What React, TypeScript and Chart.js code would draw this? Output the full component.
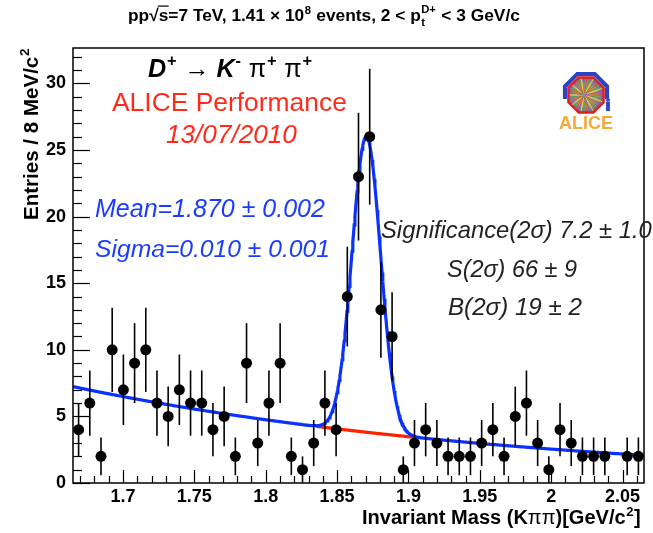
import React, { useEffect, useRef } from 'react';
import { Chart, registerables } from 'chart.js';
Chart.register(...registerables);

// ---------- data ----------
const MASS_MIN = 1.665;
const MASS_MAX = 2.065;
const N_BINS = 51;
const binCenters = Array.from({ length: N_BINS }, (_, i) => MASS_MIN + ((i + 0.5) * (MASS_MAX - MASS_MIN)) / N_BINS);
const entries: (number | null)[] = [
  4, 6, 2, 10, 7, 9, 10, 6, 5, 7,
  6, 6, 4, 5, 2, 9, 3, 6, 9, 2,
  1, 3, 6, 4, 14, 23, 26, 13, 11, 1,
  3, 4, 3, 2, 2, 2, 3, 4, 2, 5,
  6, 3, 1, 4, 3, 2, 2, 2, null, 2,
  2,
];
const xTickValues = [1.7, 1.75, 1.8, 1.85, 1.9, 1.95, 2.0, 2.05];
const xTickLabels = ['1.7', '1.75', '1.8', '1.85', '1.9', '1.95', '2', '2.05'];
const yTickValues = [0, 5, 10, 15, 20, 25, 30];
const yTickLabels = ['0', '5', '10', '15', '20', '25', '30'];
const Y_MAX = 32.66;

// fit parameters (Gaussian signal + exponential background)
const fitMean = 1.8705;
const fitSigma = 0.01;
const fitGaussAmp = 22.2;
const bkgAtMin = 7.24;
const bkgSlope = -3.12;
const bkgOnlyRange = [1.836, 1.903];

const bkg = (m: number) => bkgAtMin * Math.exp(bkgSlope * (m - MASS_MIN));
const total = (m: number) => bkg(m) + fitGaussAmp * Math.exp(-0.5 * ((m - fitMean) / fitSigma) ** 2);
const curveX = Array.from({ length: 801 }, (_, i) => MASS_MIN + (i * (MASS_MAX - MASS_MIN)) / 800);

// ---------- text helpers ----------
type Seg = { t: string; b?: boolean; i?: boolean; pos?: 'sup' | 'sub' | 'subsup'; sup2?: string; over?: boolean };
const FAM = '"Liberation Sans", Arial, Helvetica, sans-serif';
const fnt = (size: number, b?: boolean, i?: boolean) => `${i ? 'italic ' : ''}${b ? 'bold ' : ''}${size}px ${FAM}`;

function segWidth(ctx: CanvasRenderingContext2D, s: Seg, size: number) {
  if (!s.pos) {
    ctx.font = fnt(size, s.b, s.i);
    return ctx.measureText(s.t).width;
  }
  const ss = size * 0.65;
  ctx.font = fnt(ss, s.b, s.i);
  let w = ctx.measureText(s.t).width;
  if (s.pos === 'subsup' && s.sup2) w = Math.max(w, ctx.measureText(s.sup2).width);
  return w + size * 0.06;
}
const richWidth = (ctx: CanvasRenderingContext2D, segs: Seg[], size: number) =>
  segs.reduce((a, s) => a + segWidth(ctx, s, size), 0);

function drawRich(ctx: CanvasRenderingContext2D, segs: Seg[], x: number, y: number, size: number, color: string) {
  ctx.fillStyle = color;
  ctx.strokeStyle = color;
  ctx.textAlign = 'left';
  ctx.textBaseline = 'alphabetic';
  let cx = x;
  for (const s of segs) {
    const w = segWidth(ctx, s, size);
    if (!s.pos) {
      ctx.font = fnt(size, s.b, s.i);
      ctx.fillText(s.t, cx, y);
      if (s.over) {
        ctx.lineWidth = Math.max(1, size * 0.07);
        ctx.beginPath();
        ctx.moveTo(cx - size * 0.05, y - size * 0.86);
        ctx.lineTo(cx + w + size * 0.02, y - size * 0.86);
        ctx.stroke();
      }
    } else {
      const ss = size * 0.65;
      ctx.font = fnt(ss, s.b, s.i);
      if (s.pos === 'sup') ctx.fillText(s.t, cx + size * 0.03, y - size * 0.42);
      else if (s.pos === 'sub') ctx.fillText(s.t, cx + size * 0.03, y + size * 0.22);
      else {
        ctx.fillText(s.t, cx + size * 0.02, y + size * 0.3);
        if (s.sup2) ctx.fillText(s.sup2, cx + size * 0.02, y - size * 0.45);
      }
    }
    cx += w;
  }
}
function fitRich(ctx: CanvasRenderingContext2D, segs: Seg[], x: number, y: number, width: number, color: string) {
  const size = (100 * width) / richWidth(ctx, segs, 100);
  drawRich(ctx, segs, x, y, size, color);
}

function drawLogo(ctx: CanvasRenderingContext2D, cx: number, cy: number, r: number) {
  const oct = (rad: number) => {
    ctx.beginPath();
    for (let k = 0; k < 8; k++) {
      const a = Math.PI / 8 + (k * Math.PI) / 4;
      ctx.lineTo(cx + rad * Math.cos(a), cy + rad * Math.sin(a));
    }
    ctx.closePath();
  };
  ctx.save();
  ctx.beginPath();
  ctx.rect(cx - r - 10, cy - r - 10, 2 * r + 20, r + 14);
  ctx.clip();
  oct(r + 6);
  ctx.fillStyle = '#2c43c4';
  ctx.fill();
  ctx.restore();
  oct(r + 1.5);
  ctx.fillStyle = '#ffffff';
  ctx.fill();
  oct(r);
  const g = ctx.createRadialGradient(cx - 2, cy, 1, cx, cy, r);
  g.addColorStop(0, '#ffe040');
  g.addColorStop(0.3, '#f0a040');
  g.addColorStop(0.6, '#9a9a6a');
  g.addColorStop(1, '#6a5ab0');
  ctx.fillStyle = g;
  ctx.fill();
  ctx.save();
  oct(r);
  ctx.clip();
  for (let k = 0; k < 36; k++) {
    const a = (k * Math.PI * 2) / 36;
    ctx.strokeStyle = ['#e05030', '#40a060', '#f0d040', '#8060c0'][k % 4];
    ctx.lineWidth = 1;
    ctx.beginPath();
    ctx.moveTo(cx - 2, cy);
    ctx.lineTo(cx - 2 + r * 1.2 * Math.cos(a), cy + r * 1.2 * Math.sin(a));
    ctx.stroke();
  }
  ctx.restore();
  oct(r);
  ctx.strokeStyle = '#e02020';
  ctx.lineWidth = 2.5;
  ctx.stroke();
  ctx.fillStyle = '#3050c0';
  ctx.fillRect(cx + r + 1, cy + r - 12, 4, 9);
  ctx.beginPath();
  ctx.arc(cx + r + 3, cy + r - 14, 2, 0, Math.PI * 2);
  ctx.fill();
  ctx.font = fnt(18, true);
  ctx.fillStyle = '#f6a838';
  ctx.textAlign = 'center';
  ctx.fillText('ALICE', cx, cy + r + 15);
}

// ---------- plugins ----------
const errorBarPlugin = {
  id: 'errbars',
  beforeDatasetDraw(chart: any, args: any) {
    if (args.index !== 0) return;
    const { ctx, scales } = chart;
    ctx.save();
    ctx.strokeStyle = '#000';
    ctx.lineWidth = 1.6;
    binCenters.forEach((m, i) => {
      const v = entries[i];
      if (v == null) return;
      const e = Math.sqrt(v);
      const px = scales.x.getPixelForValue(m);
      ctx.beginPath();
      ctx.moveTo(px, scales.y.getPixelForValue(Math.max(0, v - e)));
      ctx.lineTo(px, scales.y.getPixelForValue(v + e));
      ctx.stroke();
    });
    ctx.restore();
  },
};

const decorPlugin = {
  id: 'decor',
  afterDraw(chart: any) {
    const { ctx, chartArea: a, scales } = chart;
    ctx.save();
    // frame
    ctx.strokeStyle = '#000';
    ctx.lineWidth = 1.5;
    ctx.strokeRect(a.left, a.top, a.right - a.left, a.bottom - a.top);
    // inward ticks
    ctx.lineWidth = 1.2;
    for (let k = 167; k <= 206; k++) {
      const px = Math.round(scales.x.getPixelForValue(k / 100)) + 0.5;
      const len = k % 5 === 0 ? 13 : 7;
      ctx.beginPath();
      ctx.moveTo(px, a.bottom);
      ctx.lineTo(px, a.bottom - len);
      ctx.stroke();
    }
    for (let k = 0; k <= 32; k++) {
      const py = Math.round(scales.y.getPixelForValue(k)) + 0.5;
      const len = k % 5 === 0 ? 17 : 9;
      ctx.beginPath();
      ctx.moveTo(a.left, py);
      ctx.lineTo(a.left + len, py);
      ctx.stroke();
    }

    // title
    fitRich(
      ctx,
      [
        { t: 'pp', b: true },
        { t: '√', b: true },
        { t: 's', b: true, over: true },
        { t: '=7 TeV, 1.41 × 10', b: true },
        { t: '8', b: true, pos: 'sup' },
        { t: ' events, 2 < p', b: true },
        { t: 't', b: true, pos: 'subsup', sup2: 'D+' },
        { t: ' < 3 GeV/c', b: true },
      ],
      128, 21, 392, '#000'
    );

    // decay
    fitRich(
      ctx,
      [
        { t: 'D', b: true, i: true },
        { t: '+', b: true, pos: 'sup' },
        { t: ' → ' },
        { t: 'K', b: true, i: true },
        { t: '-', b: true, pos: 'sup' },
        { t: ' π' },
        { t: '+', b: true, pos: 'sup' },
        { t: ' π' },
        { t: '+', b: true, pos: 'sup' },
      ],
      148, 77, 165, '#000'
    );
    fitRich(ctx, [{ t: 'ALICE Performance' }], 112, 111, 235, '#ff2a1a');
    fitRich(ctx, [{ t: '13/07/2010', i: true }], 166, 143, 131, '#ff2a1a');

    fitRich(ctx, [{ t: 'Mean=1.870 ± 0.002', i: true }], 95, 217, 230, '#1a3cff');
    fitRich(ctx, [{ t: 'Sigma=0.010 ± 0.001', i: true }], 95, 257, 235, '#1a3cff');

    fitRich(ctx, [{ t: 'Significance(2σ) 7.2 ± 1.0', i: true }], 381, 238, 271, '#222');
    fitRich(ctx, [{ t: 'S(2σ) 66 ± 9', i: true }], 447, 277, 130, '#222');
    fitRich(ctx, [{ t: 'B(2σ) 19 ± 2', i: true }], 448, 315, 134, '#222');

    // axis titles
    fitRich(
      ctx,
      [
        { t: 'Invariant Mass (K', b: true },
        { t: 'ππ' },
        { t: ')[GeV/c', b: true },
        { t: '2', b: true, pos: 'sup' },
        { t: ']', b: true },
      ],
      362, 524, 279, '#000'
    );
    ctx.save();
    ctx.translate(38, 220);
    ctx.rotate(-Math.PI / 2);
    fitRich(
      ctx,
      [
        { t: 'Entries / 8 MeV/c', b: true },
        { t: '2', b: true, pos: 'sup' },
      ],
      0, 0, 172, '#000'
    );
    ctx.restore();

    drawLogo(ctx, 586, 95, 19);
    ctx.restore();
  },
};

export default function App() {
  const ref = useRef<HTMLCanvasElement | null>(null);
  useEffect(() => {
    if (!ref.current) return;
    const tickFont = { family: FAM, size: 18, weight: 'bold' as const };
    const chart = new Chart(ref.current, {
      type: 'scatter',
      data: {
        datasets: [
          {
            label: 'data',
            data: binCenters
              .map((m, i) => ({ x: m, y: entries[i] }))
              .filter((p) => p.y != null) as any,
            pointRadius: 5.5,
            pointBackgroundColor: '#000',
            pointBorderWidth: 0,
            showLine: false,
            clip: false as any,
            order: 0,
          },
          {
            label: 'total fit',
            type: 'line',
            data: curveX.map((m) => ({ x: m, y: total(m) })),
            borderColor: '#0a32ff',
            borderWidth: 3.2,
            pointRadius: 0,
            tension: 0,
            fill: false,
            order: 1,
          } as any,
          {
            label: 'background',
            type: 'line',
            data: curveX
              .filter((m) => m >= bkgOnlyRange[0] && m <= bkgOnlyRange[1])
              .map((m) => ({ x: m, y: bkg(m) })),
            borderColor: '#ff2200',
            borderWidth: 3.2,
            pointRadius: 0,
            tension: 0,
            fill: false,
            order: 2,
          } as any,
        ],
      },
      options: {
        responsive: false,
        animation: false,
        devicePixelRatio: 1,
        events: [],
        layout: { padding: { left: 0, top: 48, right: 9, bottom: 0 } },
        plugins: { legend: { display: false }, tooltip: { enabled: false }, title: { display: false } },
        scales: {
          x: {
            type: 'linear',
            min: MASS_MIN,
            max: MASS_MAX,
            afterBuildTicks: (s: any) => {
              s.ticks = xTickValues.map((v) => ({ value: v }));
            },
            afterFit: (s: any) => {
              s.height = 50;
            },
            ticks: {
              autoSkip: false,
              maxRotation: 0,
              padding: 3,
              color: '#000',
              font: tickFont,
              callback: (_v: any, i: number) => xTickLabels[i],
            },
            grid: { display: false, drawTicks: false },
            border: { display: false },
          },
          y: {
            type: 'linear',
            min: 0,
            max: Y_MAX,
            afterBuildTicks: (s: any) => {
              s.ticks = yTickValues.map((v) => ({ value: v }));
            },
            afterFit: (s: any) => {
              s.width = 73;
            },
            ticks: {
              autoSkip: false,
              padding: 7,
              color: '#000',
              font: tickFont,
              callback: (_v: any, i: number) => yTickLabels[i],
            },
            grid: { display: false, drawTicks: false },
            border: { display: false },
          },
        },
      },
      plugins: [errorBarPlugin, decorPlugin],
    });
    return () => chart.destroy();
  }, []);
  return (
    <div style={{ position: 'absolute', left: 0, top: 0, width: 653, height: 533, background: '#fff' }}>
      <canvas ref={ref} width={653} height={533} style={{ display: 'block', width: 653, height: 533 }} />
    </div>
  );
}
